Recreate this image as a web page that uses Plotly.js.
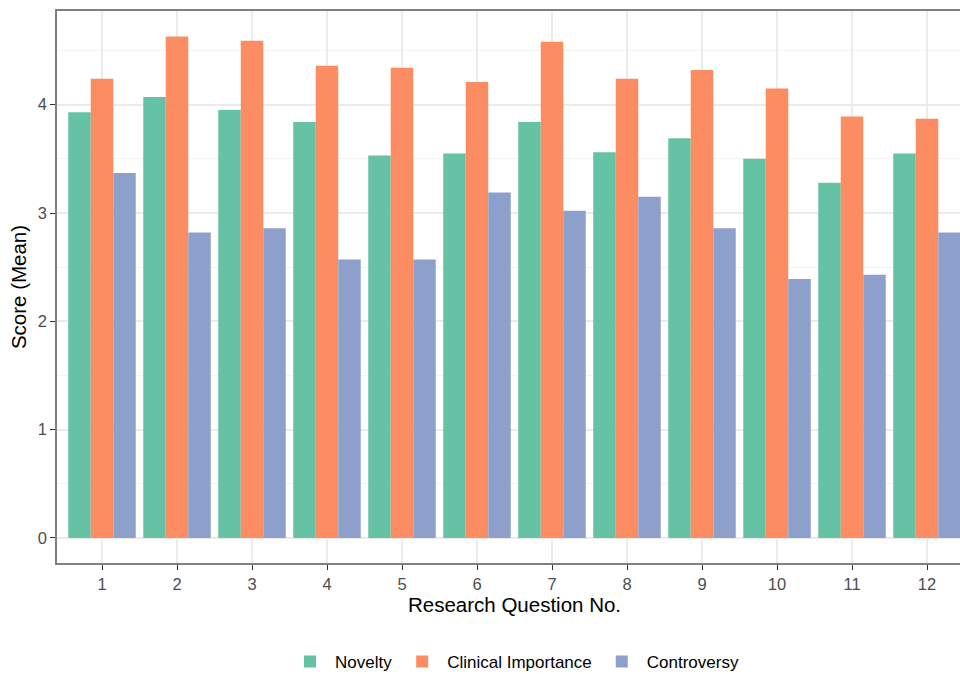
<!DOCTYPE html>
<html>
<head>
<meta charset="utf-8">
<script src="https://cdn.plot.ly/plotly-3.0.1.min.js"></script>
<style>
html,body{margin:0;padding:0;overflow:hidden;background:#fff;}
#chart{width:972px;height:674px;}
</style>
</head>
<body>
<div id="chart"></div>
<script>
const questions = ['1','2','3','4','5','6','7','8','9','10','11','12'];
const novelty = [3.93, 4.07, 3.95, 3.84, 3.53, 3.55, 3.84, 3.56, 3.69, 3.50, 3.28, 3.55];
const clinicalImportance = [4.24, 4.63, 4.59, 4.36, 4.34, 4.21, 4.58, 4.24, 4.32, 4.15, 3.89, 3.87];
const controversy = [3.37, 2.82, 2.86, 2.57, 2.57, 3.19, 3.02, 3.15, 2.86, 2.39, 2.43, 2.82];
const seriesNames = ['Novelty', 'Clinical Importance', 'Controversy'];
const seriesColors = ['#66C2A5', '#FC8D62', '#8DA0CB'];
const yTicks = [0, 1, 2, 3, 4];

const seriesValues = [novelty, clinicalImportance, controversy];
const traces = seriesValues.map((vals, i) => ({
  type: 'bar',
  x: questions,
  y: vals,
  name: seriesNames[i],
  marker: {color: seriesColors[i], line: {width: 0}},
  hoverinfo: 'x+y+name'
}));

const layout = {
  width: 972,
  height: 674,
  margin: {l: 57, r: 0, t: 11, b: 111},
  paper_bgcolor: '#ffffff',
  plot_bgcolor: '#ffffff',
  font: {family: '"Liberation Sans", Arial, sans-serif', color: '#000000'},
  barmode: 'group',
  bargap: 0.1,
  bargroupgap: 0,
  showlegend: true,
  legend: {
    orientation: 'h',
    x: 0.5, xanchor: 'center',
    yref: 'container', y: 0.018, yanchor: 'middle',
    font: {size: 17, color: '#000000'},
    itemwidth: 40,
    traceorder: 'normal'
  },
  xaxis: {
    type: 'category',
    range: [-0.6, 11.6],
    showgrid: true,
    gridcolor: '#EBEBEB',
    gridwidth: 1.8,
    zeroline: false,
    showline: true,
    linecolor: '#7F7F7F',
    linewidth: 1.6,
    mirror: true,
    ticks: 'outside',
    ticklen: 5,
    tickcolor: '#333333',
    tickwidth: 1.4,
    tickfont: {size: 16.5, color: '#4D4D4D'},
    title: {text: 'Research Question No.', font: {size: 20.5, color: '#000000'}, standoff: 5}
  },
  yaxis: {
    range: [-0.2315, 4.865],
    tickvals: yTicks,
    showgrid: true,
    gridcolor: '#EBEBEB',
    gridwidth: 1.8,
    minor: {dtick: 0.5, tick0: 0, showgrid: true, gridcolor: '#F3F3F3', gridwidth: 1.2, ticks: ''},
    zeroline: false,
    showline: true,
    linecolor: '#7F7F7F',
    linewidth: 1.6,
    mirror: true,
    ticks: 'outside',
    ticklen: 5,
    tickcolor: '#333333',
    tickwidth: 1.4,
    tickfont: {size: 16.5, color: '#4D4D4D'},
    title: {text: 'Score (Mean)', font: {size: 20.5, color: '#000000'}, standoff: 6}
  }
};

Plotly.newPlot('chart', traces, layout, {displayModeBar: false, responsive: false});
</script>
</body>
</html>
